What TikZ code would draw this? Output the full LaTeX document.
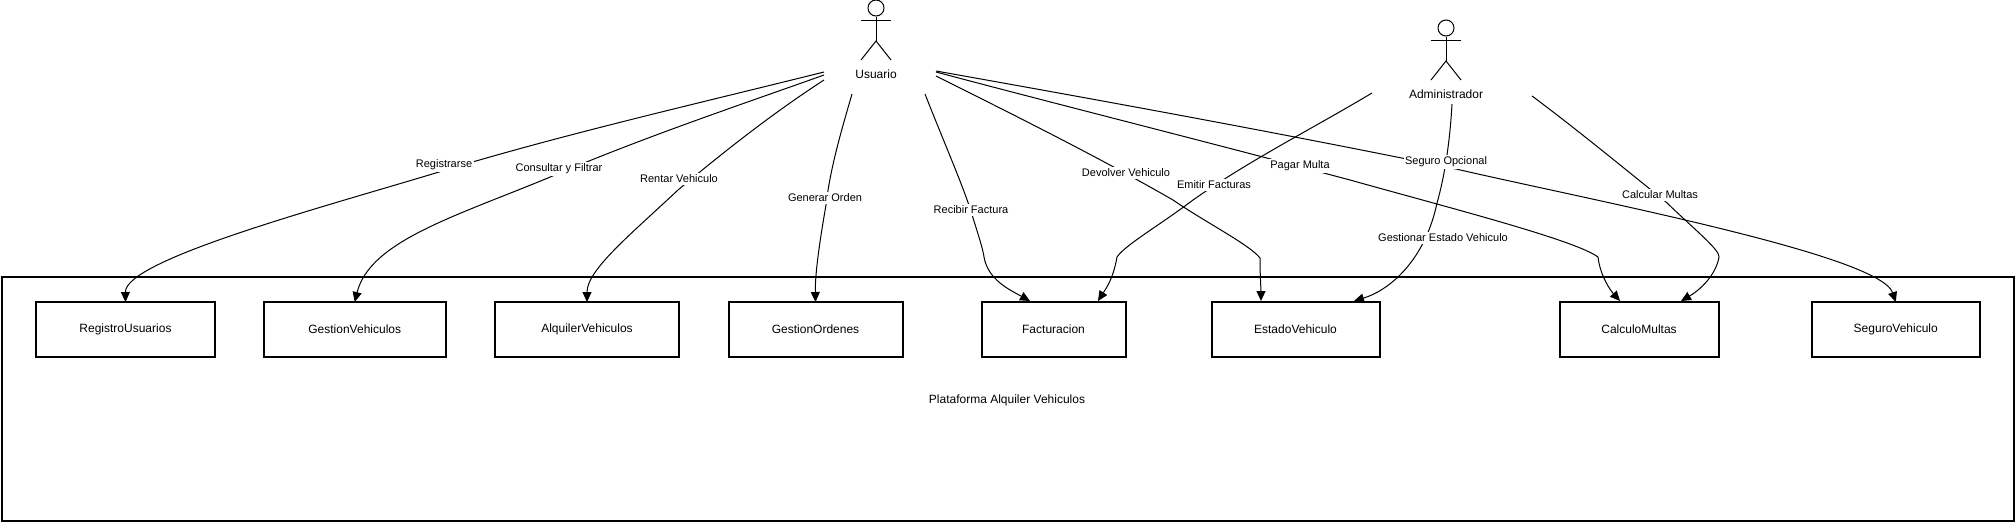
\documentclass[tikz,border=0pt]{standalone}
\usepackage{fontspec}
\setmainfont{Liberation Sans}
\usetikzlibrary{arrows.meta}
\tikzset{
  every node/.style={font=\fontsize{12}{14}\selectfont,inner sep=1pt},
  modulebox/.style={draw=black,line width=2pt,fill=white,minimum height=54.5pt,inner sep=0pt,outer sep=0pt,anchor=north west},
  container/.style={draw=black,line width=2pt,fill=white,anchor=north west,inner sep=0pt,outer sep=0pt},
  edgeline/.style={draw=black,line width=1pt,-{Triangle[length=10pt,width=9pt]}},
  edgelabel/.style={fill=white,inner sep=1.5pt,font=\fontsize{11}{13}\selectfont},
  stick/.style={draw=black,line width=1pt},
  head/.style={circle,draw=black,line width=1pt,minimum size=16pt,inner sep=0pt},
}
\newcommand{\boxtext}[1]{\raisebox{-1pt}{#1}}
\begin{document}
\begin{tikzpicture}[x=1pt,y=-1pt]
\useasboundingbox (0,0) rectangle (2015,522);
\fill[white] (0,0) rectangle (2015,522);

% container
\node[container,minimum width=2012.5pt,minimum height=243.5pt] (plat) at (1.5,277) {};
\node (platlabel) at (1007,400) {Plataforma Alquiler Vehiculos};

% actors
\node[head] (uhead) at (876,8) {};
\coordinate (ubody) at (876,41);
\draw[stick] (uhead.south) -- (ubody);
\coordinate (uarmL) at (861,20); \coordinate (uarmR) at (891,20);
\draw[stick] (uarmL) -- (uarmR);
\coordinate (ulegL) at (861,60); \coordinate (ulegR) at (891,60);
\draw[stick] (ulegL) -- (ubody) -- (ulegR);
\node (usuario) at (876,74) {Usuario};

\node[head] (ahead) at (1446,28) {};
\coordinate (abody) at (1446,61);
\draw[stick] (ahead.south) -- (abody);
\coordinate (aarmL) at (1431,40); \coordinate (aarmR) at (1461,40);
\draw[stick] (aarmL) -- (aarmR);
\coordinate (alegL) at (1431,80); \coordinate (alegR) at (1461,80);
\draw[stick] (alegL) -- (abody) -- (alegR);
\node (admin) at (1446,94) {Administrador};

% boxes
\node[modulebox,minimum width=179pt] (registro) at (36,302) {\boxtext{RegistroUsuarios}};
\node[modulebox,minimum width=181.5pt] (gestion) at (264,302) {\boxtext{GestionVehiculos}};
\node[modulebox,minimum width=184pt] (alquiler) at (495,302) {\boxtext{AlquilerVehiculos}};
\node[modulebox,minimum width=174pt] (ordenes) at (728.5,302) {\boxtext{GestionOrdenes}};
\node[modulebox,minimum width=144pt] (factura) at (981.5,302) {\boxtext{Facturacion}};
\node[modulebox,minimum width=168pt] (estado) at (1211.5,302) {\boxtext{EstadoVehiculo}};
\node[modulebox,minimum width=159pt] (calculo) at (1559.5,302) {\boxtext{CalculoMultas}};
\node[modulebox,minimum width=168.5pt] (seguro) at (1811.5,302) {\boxtext{SeguroVehiculo}};

% edge starts and ends
\coordinate (s1) at (824,72);
\coordinate (s2) at (824,75);
\coordinate (s3) at (824,80);
\coordinate (s4) at (852,94);
\coordinate (s5) at (925,94);
\coordinate (s6) at (936,76);
\coordinate (s7) at (936,72);
\coordinate (s8) at (936,71);
\coordinate (s9) at (1372,93);
\coordinate (s10) at (1452,104);
\coordinate (s11) at (1532,96);
\coordinate (t5) at (1030,301);
\coordinate (t9) at (1098,301);
\coordinate (t6) at (1261,301);
\coordinate (t10) at (1354,301);
\coordinate (t7) at (1620,301);
\coordinate (t11) at (1681,301);

% edges
\draw[edgeline] (s1) .. controls (700,103) and (560,135) .. (439,172) .. controls (320,208) and (125,260) .. (registro.north);
\draw[edgeline] (s2) .. controls (740,105) and (650,135) .. (555,175) .. controls (460,215) and (370,240) .. (gestion.north);
\draw[edgeline] (s3) .. controls (770,115) and (720,155) .. (678,190) .. controls (630,235) and (587,270) .. (alquiler.north);
\draw[edgeline] (s4) .. controls (840,135) and (830,170) .. (826,205) .. controls (819,245) and (815,275) .. (ordenes.north);
\draw[edgeline] (s5) .. controls (945,145) and (965,190) .. (973,218) .. controls (980,240) and (983,250) .. (984,257) .. controls (988,280) and (1010,290) .. (t5);
\draw[edgeline] (s6) .. controls (1020,118) and (1100,158) .. (1173,200) .. controls (1205,222) and (1250,245) .. (1260,258) .. controls (1260,275) and (1261,290) .. (t6);
\draw[edgeline] (s7) .. controls (1060,105) and (1200,140) .. (1350,180) .. controls (1450,208) and (1575,240) .. (1598,257) .. controls (1600,275) and (1610,290) .. (t7);
\draw[edgeline] (s8) .. controls (1110,102) and (1280,133) .. (1456,169) .. controls (1590,200) and (1880,255) .. (seguro.north);
\draw[edgeline] (s9) .. controls (1310,130) and (1250,160) .. (1193,200) .. controls (1160,225) and (1125,245) .. (1117,257) .. controls (1113,280) and (1105,290) .. (t9);
\draw[edgeline] (s10) .. controls (1450,140) and (1445,175) .. (1437,203) .. controls (1425,260) and (1390,290) .. (t10);
\draw[edgeline] (s11) .. controls (1575,128) and (1620,165) .. (1666,202) .. controls (1695,230) and (1720,250) .. (1719,257) .. controls (1716,275) and (1700,290) .. (t11);

% edge labels
\node[edgelabel] (l1) at (444,165) {Registrarse};
\node[edgelabel] (l2) at (559,169) {Consultar y Filtrar};
\node[edgelabel] (l3) at (679,179) {Rentar Vehiculo};
\node[edgelabel] (l4) at (825,198) {Generar Orden};
\node[edgelabel] (l5) at (971,210) {Recibir Factura};
\node[edgelabel] (l6) at (1126,173) {Devolver Vehiculo};
\node[edgelabel] (l7) at (1300,166) {Pagar Multa};
\node[edgelabel] (l8) at (1446,162) {Seguro Opcional};
\node[edgelabel] (l9) at (1214,185) {Emitir Facturas};
\node[edgelabel] (l10) at (1443,238) {Gestionar Estado Vehiculo};
\node[edgelabel] (l11) at (1660,195) {Calcular Multas};
\end{tikzpicture}
\end{document}
